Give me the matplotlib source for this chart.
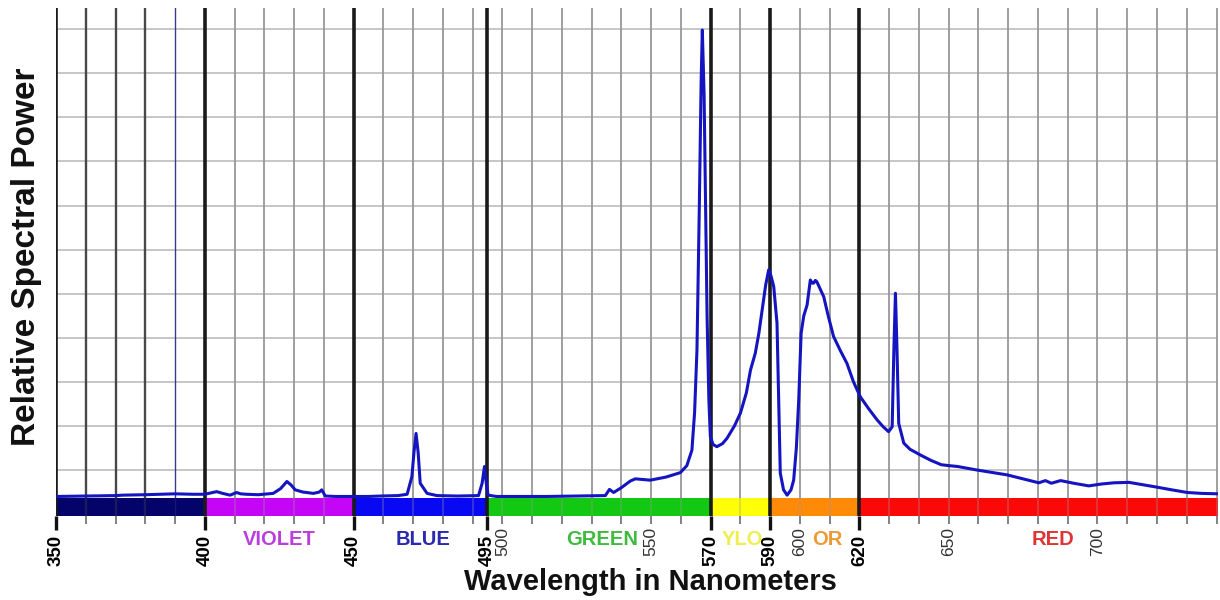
import matplotlib
matplotlib.use("Agg")
import matplotlib.pyplot as plt
from matplotlib.transforms import blended_transform_factory

plt.rcParams['font.family'] = ['Liberation Sans', 'DejaVu Sans']

# ---- data -------------------------------------------------------------
wavelength = [350, 360, 370, 372.5, 380, 390, 396, 400, 402, 404, 406, 408.5,
              410.7, 412, 414, 418, 423, 425.5, 427.6, 429, 430.4, 433, 436.5,
              438.5, 439.3, 440.5, 444, 447.7, 455, 459, 465, 468, 469.6, 470.3,
              471, 471.7, 472.4, 474.7, 478, 485, 492, 493.2, 494, 494.6, 495.2,
              498, 505, 515, 525, 534.6, 536, 537.4, 540, 543, 544.7, 549.7, 555,
              559.8, 562, 563.7, 564.6, 565.4, 566.2, 566.8, 567.2, 567.8, 568.4,
              568.8, 569.4, 569.9, 570.8, 572.1, 574, 575.5, 578, 580, 582, 583.4,
              585, 586.2, 587.3, 588.5, 589.5, 590.3, 591.2, 592.3, 592.9, 593.4,
              594.5, 595.7, 597, 597.9, 598.8, 599.6, 600.4, 601.3, 602.4, 603.5,
              604.1, 604.6, 605.2, 605.7, 606.5, 608, 609.5, 611.3, 613.5, 615.8,
              618, 620.3, 623, 625.9, 628, 629.8, 631, 631.6, 632.1, 632.6, 633.2,
              634.9, 637, 640.5, 644, 647.5, 650, 653, 659.5, 669.6, 675, 680.3,
              682.5, 684.5, 687.6, 692, 697.1, 701, 705.5, 710.6, 715, 720.1, 725,
              730.2, 735, 740.5]
power = [0.40, 0.41, 0.42, 0.43, 0.44, 0.46, 0.45, 0.45, 0.48, 0.51, 0.47, 0.43,
         0.49, 0.46, 0.45, 0.44, 0.47, 0.58, 0.74, 0.66, 0.55, 0.50, 0.47,
         0.50, 0.55, 0.41, 0.40, 0.40, 0.40, 0.41, 0.42, 0.45, 0.85, 1.40,
         1.83, 1.40, 0.70, 0.47, 0.42, 0.41, 0.42, 0.70, 1.08, 0.70, 0.43,
         0.40, 0.40, 0.40, 0.41, 0.42, 0.56, 0.49, 0.60, 0.75, 0.80, 0.77, 0.84,
         0.94, 1.10, 1.45, 2.30, 3.72, 7.00, 9.80, 10.98, 9.50, 6.50,
         4.48, 2.60, 1.76, 1.58, 1.53, 1.60, 1.72, 2.00, 2.29, 2.75, 3.27,
         3.65, 4.10, 4.63, 5.20, 5.54, 5.40, 5.16, 4.33, 2.50, 0.93,
         0.55, 0.43, 0.55, 0.77, 1.50, 2.59, 4.10, 4.50, 4.74, 5.31,
         5.24, 5.24, 5.30, 5.27, 5.15, 4.93, 4.50, 4.03, 3.72, 3.42,
         3.00, 2.66, 2.40, 2.14, 1.98, 1.87, 1.98, 3.80, 5.01, 3.80, 2.06,
         1.61, 1.47, 1.34, 1.22, 1.12, 1.10, 1.08, 1.00, 0.89, 0.80, 0.71,
         0.76, 0.70, 0.76, 0.70, 0.64, 0.68, 0.71, 0.72, 0.67, 0.61, 0.55,
         0.49, 0.47, 0.46]

band_start = [350, 400, 450, 495, 570, 590, 620]
band_end = [400, 450, 495, 570, 590, 620, 740.5]
band_colors = ['#03036a', '#c505f5', '#0808f2', '#12c812', '#ffff08', '#ff8a08', '#fb0808']

band_names = ['VIOLET', 'BLUE', 'GREEN', 'YLO', 'OR', 'RED']
band_name_x = [425, 473.2, 533.5, 580.6, 609.1, 685.2]
band_name_colors = ['#bb3ddd', '#2a2ab0', '#3fbb3f', '#eeee50', '#ec9a35', '#dd3535']

major_ticks = [350, 400, 450, 495, 570, 590, 620]
minor_ticks = list(range(360, 741, 10))
minor_labels = ['500', '550', '600', '650', '700']
grid_levels = list(range(1, 12))

# ---- figure -----------------------------------------------------------
fig = plt.figure(figsize=(12.2, 6.0), dpi=100)
fig.patch.set_facecolor('white')
ax = fig.add_axes([56 / 1220, 1 - 516 / 600, (1218 - 56) / 1220, (516 - 8) / 600])
ax.set_xlim(350, 740.5)
ax.set_ylim(-0.043, 11.48)

for s in ax.spines.values():
    s.set_visible(False)

# horizontal grid
for g in grid_levels:
    ax.axhline(g, color='#c2c2c2', lw=1.3, zorder=1)

# colour band
band_widths = [e - s for s, e in zip(band_start, band_end)]
ax.bar(band_start, 0.408, width=band_widths, bottom=-0.043,
       align='edge', color=band_colors, zorder=2, linewidth=0)

# vertical grid (minor lines show faintly through the band)
for x in minor_ticks:
    if x in major_ticks:
        continue
    if x < 390:
        c, w = '#484848', 1.7
    elif x == 390:
        c, w = '#3a3a8a', 1.0
    else:
        c, w = '#979797', 1.3
    ax.axvline(x, color=c, lw=w, zorder=1.5)
    ax.plot([x, x], [-0.043, 0.365], color=c, lw=w, alpha=0.35, zorder=2.5)

# boundary lines
for x in major_ticks:
    ax.axvline(x, color='#1a1a1a', lw=2.6, zorder=3)

# spectrum
ax.plot(wavelength, power, color='#1414c0', lw=2.2, zorder=5,
        solid_joinstyle='round')

# ticks
ax.set_xticks(major_ticks)
ax.set_xticklabels([str(t) for t in major_ticks], rotation=90,
                   fontsize=13.5, fontweight='bold', va='top')
ax.set_xticks(minor_ticks, minor=True)
ax.set_xticklabels([str(t) if str(t) in minor_labels else '' for t in minor_ticks],
                   minor=True, rotation=90, fontsize=12.5, color='#333333', va='top')
ax.tick_params(axis='x', which='major', length=10, width=2.4, color='#111111', pad=3.5)
ax.tick_params(axis='x', which='minor', length=5.5, width=1.3, color='#777777', pad=2.5)
ax.set_yticks([])

# band names
trans = blended_transform_factory(ax.transData, ax.transAxes)
for name, x, c in zip(band_names, band_name_x, band_name_colors):
    ax.text(x, -0.046, name, transform=trans, ha='center', va='center',
            fontsize=14.5, fontweight='bold', color=c)

fig.text(650 / 1220, 1 - 582 / 600, 'Wavelength in Nanometers', ha='center',
         va='center', fontsize=21, fontweight='bold', color='#111111')
fig.text(27 / 1220, 1 - 257 / 600, 'Relative Spectral Power', ha='center',
         va='center', rotation=90, fontsize=24, fontweight='bold', color='#111111')

fig.savefig('out.png', dpi=100, facecolor='white')
